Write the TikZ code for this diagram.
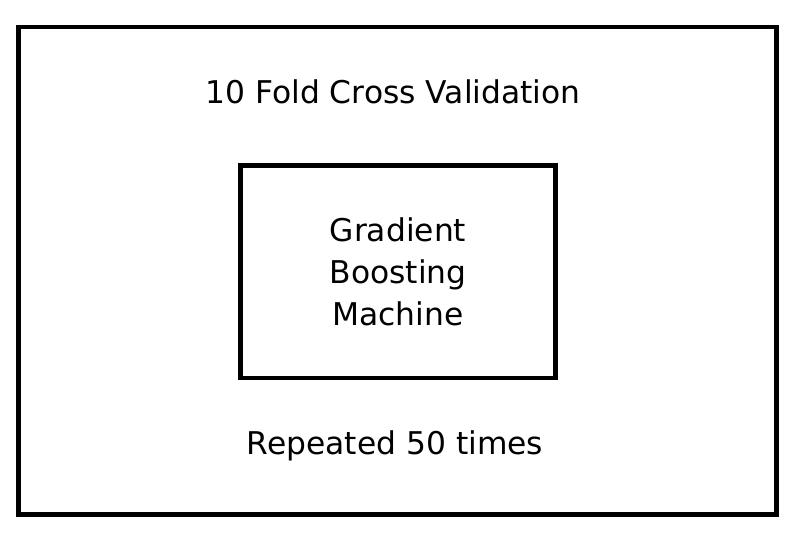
\documentclass[tikz,border=0pt]{standalone}
\usepackage{fontspec}
\setmainfont{DejaVu Sans}
\begin{document}
\begin{tikzpicture}[x=0.75pt,y=-0.75pt]
		\useasboundingbox (0,0) rectangle (800,533);
		\tikzset{frame/.style={draw, line width=3.4pt, inner sep=0pt}}
		\tikzset{label/.style={font=\fontsize{23.5}{31.5}\selectfont}}
		\node[frame, minimum width=568.5pt, minimum height=365.6pt] (CV) at (397.5,270.75) {};
		\node[frame, minimum width=236.3pt, minimum height=159.4pt, align=center, label] (GBM) at (398,271.75) {Gradient\\Boosting\\Machine};
		\node[label] (FOLD) at (393,92) {10 Fold Cross Validation};
		\node[label] (REP) at (395,446) {Repeated 50 times};
		\end{tikzpicture}
\end{document}
